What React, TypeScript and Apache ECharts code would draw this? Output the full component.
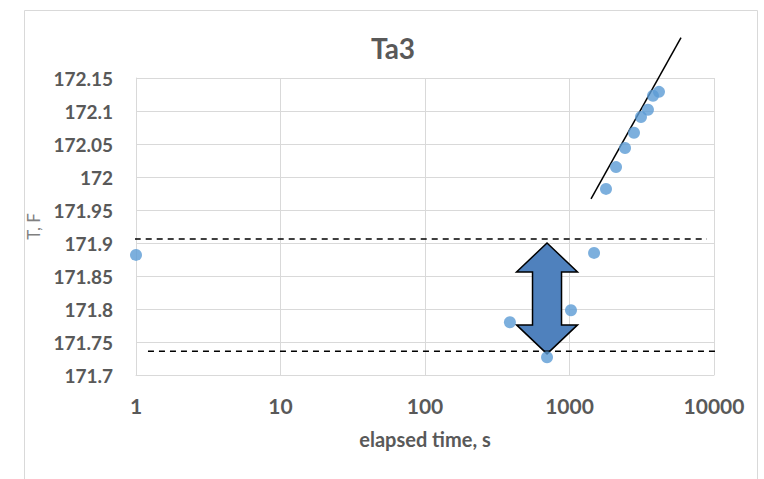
import React, { useEffect, useRef } from "react";
import * as echarts from "echarts";

// Measured points: elapsed time (s), temperature (F)
const elapsedTime = [1, 387, 699, 1024, 1479, 1789, 2099, 2423, 2795, 3124, 3491, 3783, 4160];
const temperature = [171.882, 171.78, 171.727, 171.798, 171.885, 171.982, 172.015, 172.044, 172.067, 172.091, 172.102, 172.123, 172.129];

// Trend line end points
const trendX = [1409, 5912];
const trendY = [171.967, 172.211];

// Dashed reference levels
const upperLevel = 171.906;
const upperRangeX = [0.69, 8950];
const lowerLevel = 171.736;
const lowerRangeX = [1.21, 15850];

// Double arrow: x, top value, bottom value
const arrowX = 699;
const arrowTop = 171.9;
const arrowBottom = 171.732;

const xTicks = ["1", "10", "100", "1000", "10000"];

const FONT = "Lato, 'Open Sans', sans-serif";
const GRAY = "#595959";

export default function App() {
  const ref = useRef<HTMLDivElement>(null);

  useEffect(() => {
    if (!ref.current) return;
    const chart = echarts.init(ref.current, undefined, { renderer: "svg" });

    const points = elapsedTime.map((x, i) => [x, temperature[i]]);

    chart.setOption({
      animation: false,
      backgroundColor: "#ffffff",
      title: {
        text: "Ta3",
        left: 388,
        top: 29,
        textAlign: "center",
        textStyle: { fontFamily: FONT, fontWeight: "bold", fontSize: 28, color: GRAY },
      },
      graphic: [
        {
          type: "rect",
          shape: { x: 24.5, y: 10.5, width: 733, height: 490 },
          style: { fill: "none", stroke: "#d9d9d9", lineWidth: 1 },
          silent: true,
          z: -10,
        },
      ],
      grid: { left: 136, top: 78, width: 578, height: 297, containLabel: false },
      xAxis: {
        type: "log",
        logBase: 10,
        min: 1,
        max: 10000,
        name: "elapsed time, s",
        nameLocation: "middle",
        nameGap: 54,
        nameTextStyle: { fontFamily: FONT, fontWeight: "bold", fontSize: 20, color: GRAY },
        axisLine: { show: true, lineStyle: { color: "#d9d9d9" } },
        axisTick: { show: false },
        axisLabel: {
          margin: 20,
          fontFamily: FONT,
          fontWeight: "bold",
          fontSize: 21,
          color: GRAY,
          formatter: (v: number) => {
            const idx = Math.round(Math.log10(v));
            return xTicks[idx] ?? String(v);
          },
        },
        splitLine: { show: true, lineStyle: { color: "#d9d9d9" } },
        minorTick: { show: false },
      },
      yAxis: {
        type: "value",
        min: 171.7,
        max: 172.15,
        interval: 0.05,
        name: "T, F",
        nameLocation: "middle",
        nameGap: 86,
        nameTextStyle: { fontFamily: FONT, fontSize: 17, color: "#808080" },
        axisLine: { show: true, lineStyle: { color: "#d9d9d9" } },
        axisTick: { show: false },
        axisLabel: {
          margin: 23,
          fontFamily: FONT,
          fontWeight: "bold",
          fontSize: 19,
          color: GRAY,
          formatter: (v: number) => String(Number(v.toFixed(2))),
        },
        splitLine: { show: true, lineStyle: { color: "#d9d9d9" } },
      },
      series: [
        {
          type: "custom",
          clip: false,
          z: 1,
          encode: { x: 0, y: [1, 2] },
          data: [[arrowX, arrowTop, arrowBottom]],
          renderItem: (params: any, api: any) => {
            const t = api.coord([api.value(0), api.value(1)]);
            const b = api.coord([api.value(0), api.value(2)]);
            const cx = t[0];
            const ty = t[1];
            const by = b[1];
            const hw = 30.5;
            const sw = 14.5;
            const hh = 29;
            return {
              type: "polygon",
              shape: {
                points: [
                  [cx, ty],
                  [cx + hw, ty + hh],
                  [cx + sw, ty + hh],
                  [cx + sw, by - hh],
                  [cx + hw, by - hh],
                  [cx, by],
                  [cx - hw, by - hh],
                  [cx - sw, by - hh],
                  [cx - sw, ty + hh],
                  [cx - hw, ty + hh],
                ],
              },
              style: { fill: "#4f81bd", stroke: "#000000", lineWidth: 1.5 },
            };
          },
        },
        {
          type: "line",
          clip: false,
          z: 2,
          symbol: "none",
          data: upperRangeX.map((x) => [x, upperLevel]),
          lineStyle: { color: "#000000", width: 1.5, type: [6, 5] },
        },
        {
          type: "line",
          clip: false,
          z: 2,
          symbol: "none",
          data: lowerRangeX.map((x) => [x, lowerLevel]),
          lineStyle: { color: "#000000", width: 1.5, type: [6, 5] },
        },
        {
          type: "line",
          clip: false,
          z: 3,
          symbol: "none",
          data: trendX.map((x, i) => [x, trendY[i]]),
          lineStyle: { color: "#000000", width: 1.5 },
        },
        {
          type: "scatter",
          clip: false,
          z: 4,
          symbol: "circle",
          symbolSize: 12,
          data: points,
          itemStyle: { color: "#5b9bd5" },
        },
      ],
    });

    return () => chart.dispose();
  }, []);

  return (
    <div
      ref={ref}
      style={{ position: "fixed", left: 0, top: 0, width: 764, height: 479 }}
    />
  );
}
